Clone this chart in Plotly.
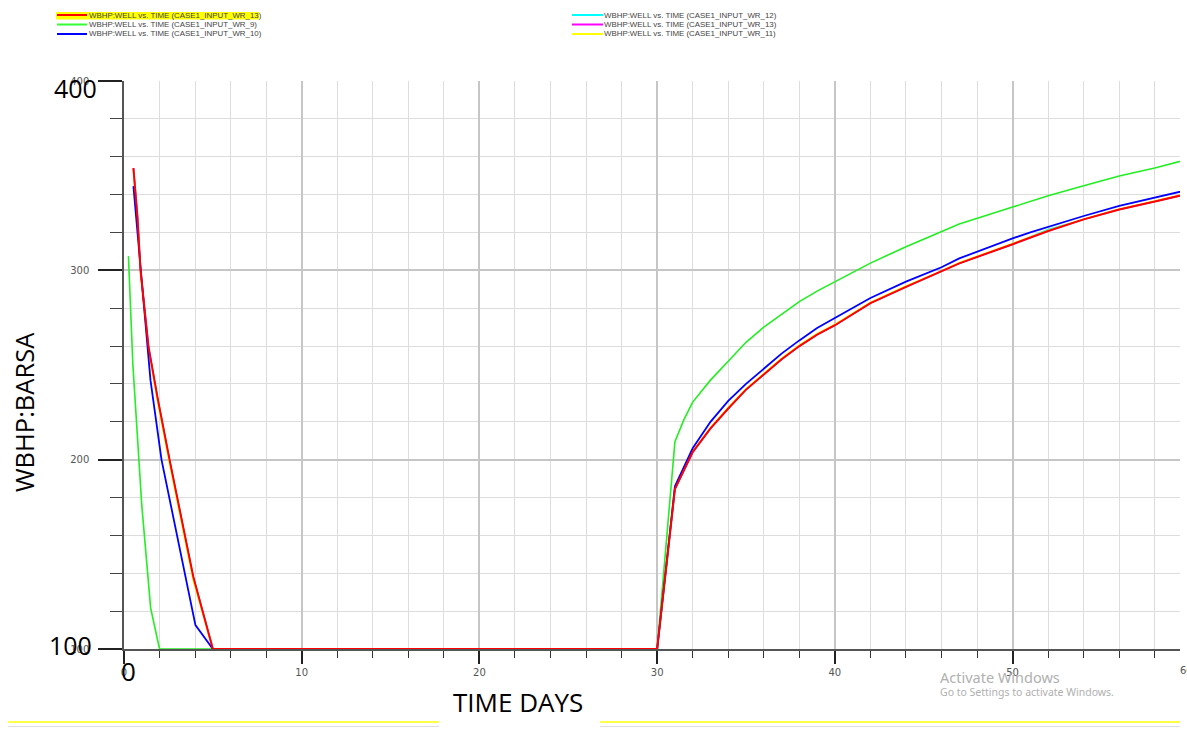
import plotly.graph_objects as go

# ---------------- data ----------------
t_wr13 = [0.53, 0.76, 0.93, 1.38, 1.89, 2.56, 3.9, 5, 30, 31, 32, 33, 34, 35, 36, 37, 38, 39, 40, 42, 44, 46, 47,
          50, 52, 54, 56, 58, 60]
p_wr13 = [354, 328, 300, 259.5, 232.5, 200, 138, 100, 100, 184.5, 204, 216.5, 227, 237, 245, 253, 260, 266, 271,
          282.7, 291.3, 299.3, 303.7, 313.8, 320.8, 326.9, 332.1, 336.4, 340.7]

t_wr9 = [0.25, 0.5, 1, 1.5, 2, 30, 31, 31.5, 32, 33, 34, 35, 36, 37, 38, 39, 40, 42, 44, 46, 47, 50, 52, 54, 56, 58, 60]
p_wr9 = [307.5, 250, 176, 121.6, 100, 100, 209.5, 221, 230.4, 242, 252, 262, 270, 277, 283.5, 289, 294, 303.8,
         312.5, 320.4, 324.5, 333.4, 339.4, 344.7, 349.8, 354, 359]

t_wr10 = [0.53, 0.93, 1.49, 2.11, 3, 4.02, 5, 30, 31, 32, 33, 34, 35, 36, 37, 38, 39, 40, 42, 44, 46, 47, 50, 51, 52,
          54, 56, 58, 60]
p_wr10 = [344.5, 300, 242, 200, 159, 112.6, 100, 100, 186, 206, 220, 231, 240, 248, 256, 263, 269.5, 274.8, 285.4,
          294, 301.6, 306.3, 316.9, 320, 323, 328.7, 334, 338.2, 342.8]

t_wr12 = [0.53, 0.76, 0.93, 1.38, 1.89, 2.56, 3.9, 5, 30, 31, 32, 33, 34, 35, 36, 37, 38, 39, 40, 42, 44, 46, 47,
          50, 52, 54, 56, 58, 60]
p_wr12 = [354, 328, 300, 259.5, 232.5, 200, 138, 100, 100, 184.5, 204, 216.5, 227, 237, 245, 253, 260, 266, 271,
          282.7, 291.3, 299.3, 303.7, 313.8, 321.6, 326.9, 332.1, 336.4, 340.7]

t_wr13b = [0.53, 0.76, 0.93, 1.38, 1.89, 2.56, 3.9, 5, 30, 31, 32, 33, 34, 35, 36, 37, 38, 39, 40, 42, 44, 46, 47,
           50, 52, 54, 56, 58, 60]
p_wr13b = [354, 328, 300, 259.5, 232.5, 200, 138, 100, 100, 184.5, 204, 216.5, 227, 237, 245, 253, 260, 266, 271,
           282.7, 291.3, 299.3, 303.7, 313.8, 320.8, 326.9, 332.1, 336.4, 340.7]

t_wr11 = [0.53, 0.76, 0.93, 1.38, 1.89, 2.56, 3.9, 5, 30, 31, 32, 33, 34, 35, 36, 37, 38, 39, 40, 42, 44, 46, 47,
          50, 52, 54, 56, 58, 60]
p_wr11 = [353, 326.5, 298.5, 257.5, 230.5, 198, 136, 100, 100, 185, 204.5, 217, 227.5, 237.5, 245.5, 253.5, 260.5,
          266.5, 271.5, 283, 291.7, 299.6, 304, 314.2, 321, 327, 332.3, 336.6, 340.9]

legend_left = ["WBHP:WELL vs. TIME (CASE1_INPUT_WR_13)", "WBHP:WELL vs. TIME (CASE1_INPUT_WR_9)",
               "WBHP:WELL vs. TIME (CASE1_INPUT_WR_10)"]
legend_right = ["WBHP:WELL vs. TIME (CASE1_INPUT_WR_12)", "WBHP:WELL vs. TIME (CASE1_INPUT_WR_13)",
                "WBHP:WELL vs. TIME (CASE1_INPUT_WR_11)"]
colors_left = ["#ff0000", "#33ff33", "#0000ff"]
colors_right = ["#00ffff", "#ff00ff", "#ffff00"]

x_range = [0, 59.42]
y_range = [100, 400]

# ---------------- layout geometry ----------------
W, H = 1187, 731
L, R, T, B = 124, 1180, 81, 649


def px(x):
    return (x - L) / (R - L)


def py(y):
    return (B - y) / (B - T)


fig = go.Figure()
# underlying series first, red on top
fig.add_trace(go.Scatter(x=t_wr12, y=p_wr12, mode="lines", line=dict(color="#00ffff", width=1.5),
                         name=legend_right[0], showlegend=False))
fig.add_trace(go.Scatter(x=t_wr13b, y=p_wr13b, mode="lines", line=dict(color="#ff00ff", width=1.5),
                         name=legend_right[1], showlegend=False))
fig.add_trace(go.Scatter(x=t_wr11, y=p_wr11, mode="lines", line=dict(color="#ffff00", width=1.5),
                         name=legend_right[2], showlegend=False))
fig.add_trace(go.Scatter(x=t_wr9, y=p_wr9, mode="lines", line=dict(color="#22ee22", width=1.6),
                         name=legend_left[1], showlegend=False))
fig.add_trace(go.Scatter(x=t_wr10, y=p_wr10, mode="lines", line=dict(color="#0000ff", width=1.8),
                         name=legend_left[2], showlegend=False))
fig.add_trace(go.Scatter(x=t_wr13, y=p_wr13, mode="lines", line=dict(color="#ff0000", width=2),
                         name=legend_left[0], showlegend=False))

tickfont = dict(family="DejaVu Sans", size=10, color="#555555")

fig.update_layout(
    width=W, height=H,
    margin=dict(l=L, r=W - R, t=T, b=H - B),
    paper_bgcolor="white", plot_bgcolor="white",
    showlegend=False,
    xaxis=dict(range=x_range, dtick=10, tick0=0, ticks="outside", ticklen=13, tickwidth=2, tickcolor="#222",
               showgrid=True, gridcolor="#c6c6c6", gridwidth=1.5, zeroline=False,
               showline=True, linecolor="#555", linewidth=1.5, tickfont=tickfont, ticklabelstandoff=0,
               minor=dict(dtick=2, ticks="outside", ticklen=7, tickwidth=1.2, tickcolor="#333",
                          showgrid=True, gridcolor="#dddddd", gridwidth=1)),
    yaxis=dict(range=y_range, dtick=100, tick0=0, ticks="outside", ticklen=24, tickwidth=2, tickcolor="#222",
               showgrid=True, gridcolor="#c6c6c6", gridwidth=1.5, zeroline=False,
               showline=True, linecolor="#555", linewidth=1.5, tickfont=tickfont, ticklabelstandoff=7,
               minor=dict(dtick=20, ticks="outside", ticklen=12, tickwidth=1.2, tickcolor="#444",
                          showgrid=True, gridcolor="#dddddd", gridwidth=1)),
)

shapes = []
annotations = []

# legend highlight
shapes.append(dict(type="rect", xref="paper", yref="paper", x0=px(56), x1=px(259), y0=py(19.5), y1=py(12),
                   fillcolor="#ffff00", line=dict(width=0), layer="above"))
rows = [15, 24.5, 34]
legfont = dict(family="Liberation Sans", size=7.9, color="#444")
for i in range(3):
    shapes.append(dict(type="line", xref="paper", yref="paper", x0=px(57), x1=px(87), y0=py(rows[i]),
                       y1=py(rows[i]), line=dict(color=colors_left[i], width=2)))
    annotations.append(dict(xref="paper", yref="paper", x=px(87), y=py(rows[i]), text=legend_left[i],
                            showarrow=False, xanchor="left", yanchor="middle", font=legfont))
    shapes.append(dict(type="line", xref="paper", yref="paper", x0=px(572), x1=px(603), y0=py(rows[i]),
                       y1=py(rows[i]), line=dict(color=colors_right[i], width=2)))
    annotations.append(dict(xref="paper", yref="paper", x=px(602), y=py(rows[i]), text=legend_right[i],
                            showarrow=False, xanchor="left", yanchor="middle", font=legfont))

big = dict(family="Open Sans", size=25, color="black")
annotations += [
    dict(xref="paper", yref="paper", x=px(75.5), y=py(88), text="400", showarrow=False, font=big,
         xanchor="center", yanchor="middle"),
    dict(xref="paper", yref="paper", x=px(70.5), y=py(645), text="100", showarrow=False, font=big,
         xanchor="center", yanchor="middle"),
    dict(xref="paper", yref="paper", x=px(128.5), y=py(671), text="0", showarrow=False,
         font=dict(family="Open Sans", size=26, color="black"), xanchor="center", yanchor="middle"),
    dict(xref="paper", yref="paper", x=px(518), y=py(702), text="TIME DAYS", showarrow=False,
         font=dict(family="Open Sans", size=26, color="black"), xanchor="center", yanchor="middle"),
    dict(xref="paper", yref="paper", x=px(24), y=py(412), text="WBHP:BARSA", showarrow=False, textangle=-90,
         font=dict(family="Open Sans", size=25.5, color="black"), xanchor="center", yanchor="middle"),
    dict(xref="paper", yref="paper", x=px(1186), y=py(670), text="60", showarrow=False, font=tickfont,
         xanchor="center", yanchor="middle"),
    dict(xref="paper", yref="paper", x=px(938), y=py(677), text="Activate Windows", showarrow=False,
         font=dict(family="Noto Sans", size=14.5, color="#b0b0b0"), xanchor="left", yanchor="middle"),
    dict(xref="paper", yref="paper", x=px(938), y=py(692), text="Go to Settings to activate Windows.",
         showarrow=False, font=dict(family="Noto Sans", size=10.5, color="#b0b0b0"), xanchor="left",
         yanchor="middle"),
]

# bottom decorative lines
for x0, x1 in [(8, 439), (600, 1180)]:
    shapes.append(dict(type="line", xref="paper", yref="paper", x0=px(x0), x1=px(x1), y0=py(722), y1=py(722),
                       line=dict(color="#ffff44", width=2)))
    shapes.append(dict(type="line", xref="paper", yref="paper", x0=px(x0), x1=px(x1), y0=py(726.5),
                       y1=py(726.5), line=dict(color="#dddddd", width=1)))

fig.update_layout(shapes=shapes, annotations=annotations)
fig.write_html("out.html")
